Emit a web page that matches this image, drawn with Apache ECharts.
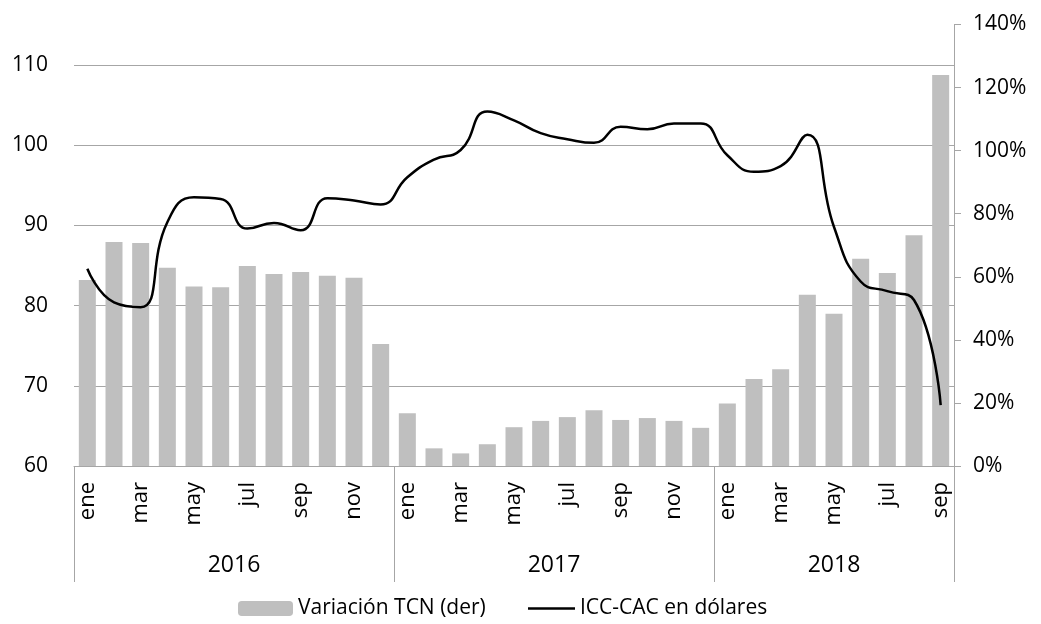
<!DOCTYPE html>
<html>
<head>
<meta charset="utf-8">
<script src="https://cdn.jsdelivr.net/npm/echarts@6/dist/echarts.min.js"></script>
<style>
  html, body { margin: 0; padding: 0; background: #fff; }
  #chart { width: 1041px; height: 624px; }
</style>
</head>
<body>
<div id="chart"></div>
<script>
// meses ene 2016 - sep 2018
const months = [
  "ene", "feb", "mar", "abr", "may", "jun", "jul", "ago", "sep", "oct", "nov", "dic",
  "ene", "feb", "mar", "abr", "may", "jun", "jul", "ago", "sep", "oct", "nov", "dic",
  "ene", "feb", "mar", "abr", "may", "jun", "jul", "ago", "sep"
];
const years = ["2016", "2017", "2018"];
const yearBounds = [0, 12, 24, 33];
const yearMid = [6, 18, 28.5];

// Variación TCN (der), %
const tcn = [
  59.0, 71.0, 70.7, 62.9, 56.9, 56.7, 63.4, 60.9, 61.5, 60.3, 59.7, 38.7,
  16.7, 5.6, 4.0, 6.9, 12.3, 14.3, 15.5, 17.7, 14.6, 15.2, 14.3, 12.1,
  19.8, 27.6, 30.7, 54.3, 48.3, 65.7, 61.2, 73.2, 124.0
];
// ICC-CAC en dólares
const icc = [
  84.6, 80.4, 79.8, 90.4, 93.5, 93.3, 89.6, 90.3, 89.4, 93.4, 93.1, 92.6,
  96.0, 98.2, 99.4, 104.2, 103.1, 101.5, 100.75, 100.3, 102.3, 102.0, 102.7, 102.7,
  98.75, 96.7, 97.4, 101.3, 89.8, 83.0, 81.8, 80.7, 67.6
];

const leftTicks = { min: 60, max: 110, interval: 10 };
const rightTicks = { min: 0, max: 140, interval: 20 };

const FONT = "Open Sans";
const GRID_COLOR = "#a6a6a6";

const chart = echarts.init(document.getElementById("chart"));

const option = {
  animation: false,
  textStyle: { fontFamily: FONT, color: "#000" },
  grid: [
    // eje izquierdo + línea
    { left: 74, right: 87, top: 65, bottom: 158, containLabel: false },
    // eje derecho + barras
    { left: 74, right: 87, top: 24.5, bottom: 158, containLabel: false }
  ],
  legend: [
    {
      data: ["Variación TCN (der)"],
      left: 233, top: 593,
      itemWidth: 55, itemHeight: 15,
      textStyle: { fontFamily: FONT, fontSize: 21, color: "#000" }
    },
    {
      data: [{ name: "ICC-CAC en dólares", icon: "rect" }],
      left: 523, top: 593,
      itemWidth: 47, itemHeight: 2.5,
      itemStyle: { color: "#000" },
      textStyle: { fontFamily: FONT, fontSize: 21, color: "#000" }
    }
  ],
  xAxis: [
    {
      type: "category", gridIndex: 0, data: months, show: false
    },
    {
      type: "category", gridIndex: 1, data: months,
      axisLine: { show: true, onZero: false, lineStyle: { color: GRID_COLOR } },
      axisTick: { show: false },
      axisLabel: {
        interval: 1, rotate: 90, margin: 16,
        fontFamily: FONT, fontSize: 22, color: "#000"
      }
    },
    {
      // años
      type: "value", gridIndex: 1, min: 0, max: 33, position: "bottom",
      axisLine: { show: false, onZero: false },
      splitLine: { show: false },
      axisTick: {
        show: true, length: 116, customValues: yearBounds,
        lineStyle: { color: GRID_COLOR }
      },
      axisLabel: {
        customValues: yearMid, margin: 88,
        fontFamily: FONT, fontSize: 23, color: "#000",
        formatter: (v) => years[yearMid.indexOf(v)] || ""
      }
    }
  ],
  yAxis: [
    {
      type: "value", gridIndex: 0, position: "left",
      min: leftTicks.min, max: leftTicks.max, interval: leftTicks.interval,
      axisLine: { show: false, onZero: false }, axisTick: { show: false },
      splitLine: { show: true, lineStyle: { color: GRID_COLOR, width: 1 } },
      axisLabel: { margin: 26, fontFamily: FONT, fontSize: 21, color: "#000" }
    },
    {
      type: "value", gridIndex: 1, position: "right",
      min: rightTicks.min, max: rightTicks.max, interval: rightTicks.interval,
      axisLine: { show: true, onZero: false, lineStyle: { color: GRID_COLOR } },
      axisTick: { show: true, inside: false, length: 7, lineStyle: { color: GRID_COLOR } },
      splitLine: { show: false },
      axisLabel: {
        margin: 19, fontFamily: FONT, fontSize: 21, color: "#000",
        formatter: "{value}%"
      }
    }
  ],
  series: [
    {
      name: "Variación TCN (der)", type: "bar",
      xAxisIndex: 1, yAxisIndex: 1,
      data: tcn, barWidth: 17,
      itemStyle: { color: "#bfbfbf" },
      z: 2
    },
    {
      name: "ICC-CAC en dólares", type: "line",
      xAxisIndex: 0, yAxisIndex: 0,
      data: icc, smooth: 0.5, smoothConstraint: false, symbol: "none",
      lineStyle: { color: "#000", width: 2.5 },
      itemStyle: { color: "#000" },
      z: 5
    }
  ]
};

chart.setOption(option);
</script>
</body>
</html>
